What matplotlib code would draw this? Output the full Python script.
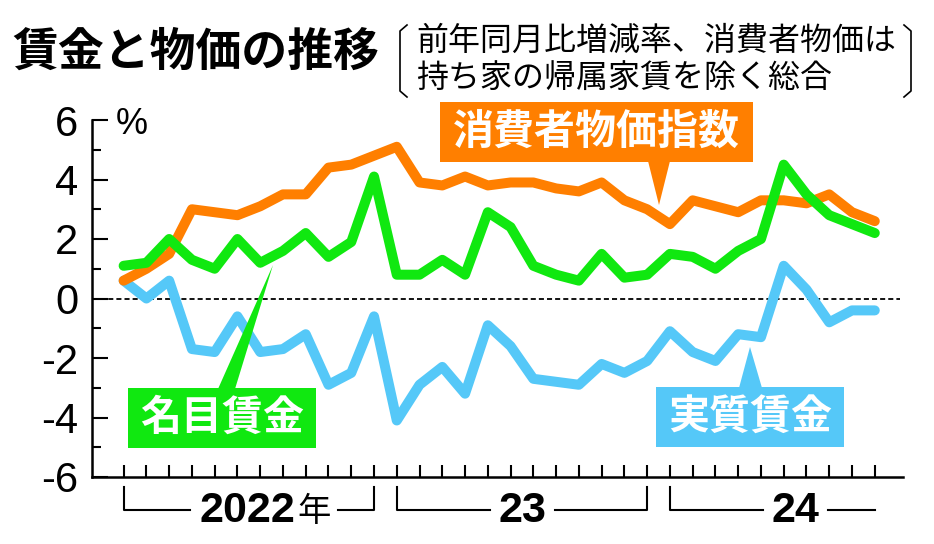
import numpy as np
import matplotlib
matplotlib.use("Agg")
import matplotlib.pyplot as plt
from matplotlib.patches import Rectangle, Polygon
from matplotlib.transforms import Affine2D, blended_transform_factory

plt.rcParams['font.family'] = ['Noto Sans CJK JP', 'DejaVu Sans']

# 2022年1月〜2024年10月（前年同月比、%）
months = np.arange(34)
cpi = [0.6, 1.0, 1.5, 3.0, 2.9, 2.8, 3.1, 3.5, 3.5, 4.4, 4.5, 4.8,
       5.1, 3.9, 3.8, 4.1, 3.8, 3.9, 3.9, 3.7, 3.6, 3.9, 3.3, 3.0,
       2.5, 3.3, 3.1, 2.9, 3.3, 3.3, 3.2, 3.5, 2.9, 2.6]
nominal = [1.1, 1.2, 2.0, 1.3, 1.0, 2.0, 1.2, 1.6, 2.2, 1.4, 1.9, 4.1,
           0.8, 0.8, 1.3, 0.8, 2.9, 2.4, 1.1, 0.8, 0.6, 1.5, 0.7, 0.8,
           1.5, 1.4, 1.0, 1.6, 2.0, 4.5, 3.5, 2.8, 2.5, 2.2]
real = [0.6, 0.0, 0.6, -1.7, -1.8, -0.6, -1.8, -1.7, -1.2, -2.9, -2.5, -0.6,
        -4.1, -2.9, -2.3, -3.2, -0.9, -1.6, -2.7, -2.8, -2.9, -2.2, -2.5, -2.1,
        -1.1, -1.8, -2.1, -1.2, -1.3, 1.1, 0.3, -0.8, -0.4, -0.4]
ytick_vals = [-6, -4, -2, 0, 2, 4, 6]
ytick_labels = ['-6', '-4', '-2', '0', '2', '4', '6']

ORANGE = '#ff7f00'
GREEN = '#10e810'
BLUE = '#55c8f8'

W, H = 934, 544
fig = plt.figure(figsize=(W / 100, H / 100), dpi=100)
px = Affine2D().scale(1, -1).translate(0, H)  # 左上原点のピクセル座標

ax = fig.add_axes([92 / W, 1 - 477 / H, (903 - 92) / W, (477 - 120) / H])
ax.plot(months, real, color=BLUE, lw=7.2, solid_capstyle='round', zorder=3)
ax.plot(months, cpi, color=ORANGE, lw=7.2, solid_capstyle='round', zorder=4)
ax.plot(months, nominal, color=GREEN, lw=7.2, solid_capstyle='round', zorder=5)
ax.axhline(0, xmin=0, xmax=0.996, color='black', lw=1.3, ls=(0, (2.8, 1.7)), zorder=2)

ax.set_xlim(-1.39, 34.24)
ax.set_ylim(-6, 6)
ax.set_xticks(months)
ax.set_xticklabels([])
ax.set_yticks(ytick_vals)
ax.set_yticklabels(ytick_labels, fontfamily='Liberation Sans', fontsize=30)
ax.set_yticks(range(-5, 6, 2), minor=True)
ax.tick_params(axis='x', direction='in', length=8.6, width=1.5)
ax.tick_params(axis='y', which='major', direction='in', length=11.5, width=1.5, pad=10)
ax.tick_params(axis='y', which='minor', direction='in', length=6.5, width=1.5)
for s in ['top', 'right']:
    ax.spines[s].set_visible(False)
for s in ['left', 'bottom']:
    ax.spines[s].set_linewidth(1.8)

# 年の区切り
bt = blended_transform_factory(ax.transData, px)
brackets = [(0, 2.91, 9.42, 11, True), (12, 16.09, 18.95, 23, True), (24, 28.09, 30.94, 33, False)]
for x0, g0, g1, x1, right_end in brackets:
    ax.plot([x0, x0, g0], [487, 510, 510], color='black', lw=1.5, transform=bt, clip_on=False)
    if right_end:
        ax.plot([g1, x1, x1], [510, 510, 487], color='black', lw=1.5, transform=bt, clip_on=False)
    else:
        ax.plot([g1, x1], [510, 510], color='black', lw=1.5, transform=bt, clip_on=False)
ax.text(7.53, 511, '2022', transform=bt, ha='right', va='center', fontsize=31,
        fontweight='bold', fontfamily='Liberation Sans')
ax.text(7.62, 511, '年', transform=bt, ha='left', va='center', fontsize=24)
ax.text(17.5, 511, '23', transform=bt, ha='center', va='center', fontsize=31,
        fontweight='bold', fontfamily='Liberation Sans')
ax.text(29.5, 511, '24', transform=bt, ha='center', va='center', fontsize=31,
        fontweight='bold', fontfamily='Liberation Sans')

fig.text(132, 124, '%', transform=px, ha='center', va='center', fontsize=26,
         fontfamily='Liberation Sans')

# タイトル
fig.text(12, 53, '賃金と物価の推移', transform=px, ha='left', va='center',
         fontsize=33, fontweight='bold')
fig.text(416, 41, '前年同月比増減率、消費者物価は', transform=px, ha='left', va='center', fontsize=23)
fig.text(416, 78, '持ち家の帰属家賃を除く総合', transform=px, ha='left', va='center', fontsize=23)
fig.add_artist(plt.Line2D([407, 400, 400, 407], [25, 31, 91, 97], transform=px, color='black', lw=1.2))
fig.add_artist(plt.Line2D([904, 911, 911, 904], [25, 31, 91, 97], transform=px, color='black', lw=1.2))

# 吹き出しラベル
labels = [
    ('消費者物価指数', ORANGE, (440, 102, 313, 60), [(648, 161), (670, 161), (659, 205)]),
    ('名目賃金', GREEN, (128, 388, 188, 60), [(218, 389), (235, 389), (273, 265)]),
    ('実質賃金', BLUE, (656, 387, 188, 60), [(739, 388), (762, 388), (750, 347)]),
]
for text, color, (x, y, w, h), tri in labels:
    fig.add_artist(Rectangle((x, y), w, h, transform=px, facecolor=color, edgecolor='none', zorder=6))
    fig.add_artist(Polygon(tri, closed=True, transform=px, facecolor=color, edgecolor='none', zorder=6))
    fig.text(x + w / 2, y + h / 2, text, transform=px, ha='center', va='center',
             fontsize=29.5, fontweight='bold', color='white', zorder=7)

fig.savefig('out.png', dpi=100)
